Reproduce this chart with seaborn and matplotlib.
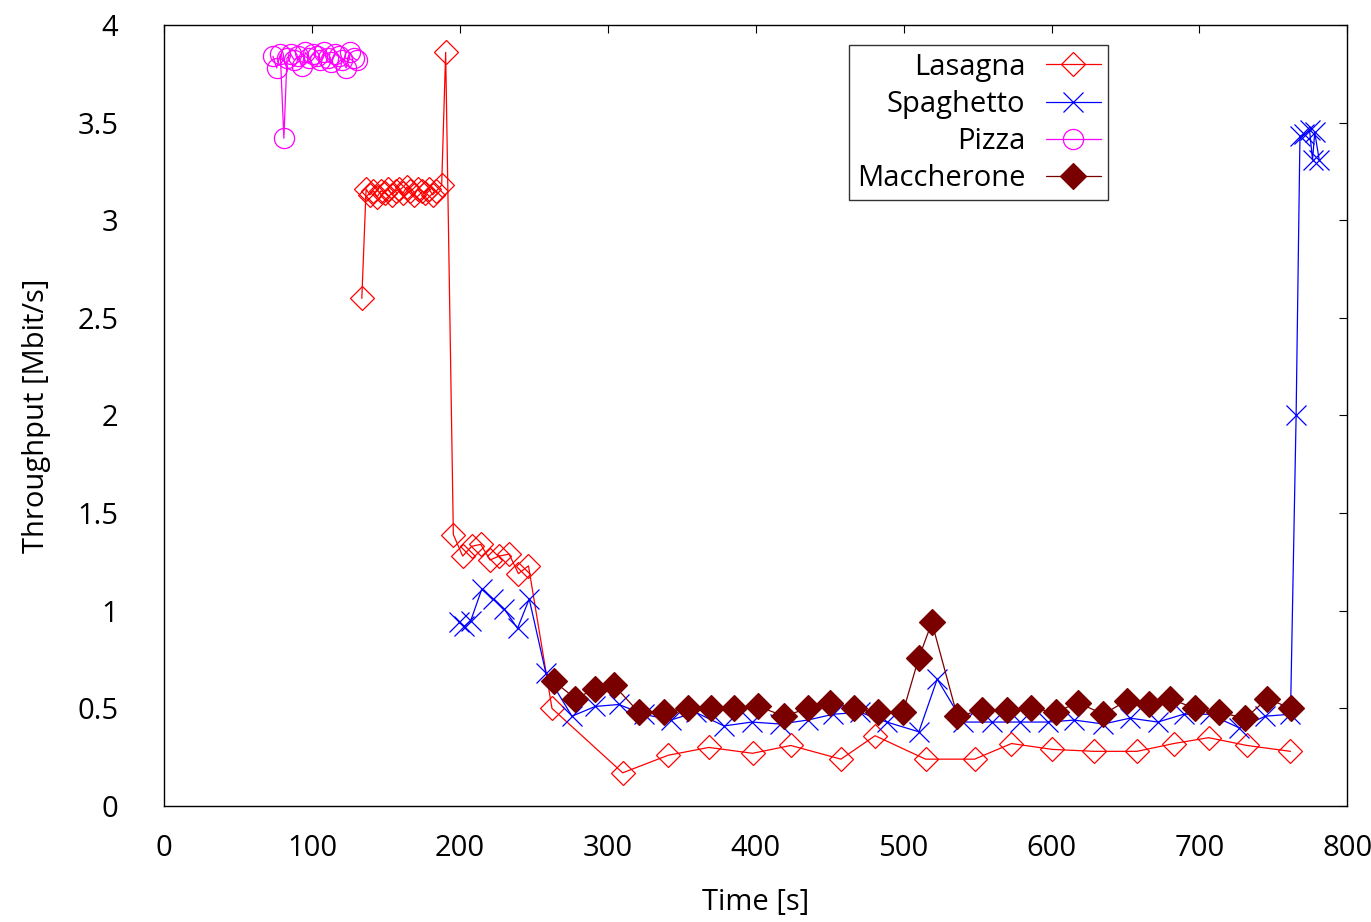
import numpy as np
import pandas as pd
import matplotlib
matplotlib.use("Agg")
import matplotlib.pyplot as plt
import seaborn as sns

# ---------------- data ----------------
pizza_t = [73.5, 76, 78.5, 80.9, 83, 85.5, 88, 90.5, 93, 95.5, 98, 100.5, 103,
           105.5, 108, 110.5, 113, 115.5, 118, 120.5, 123, 125.5, 128, 130.3]
pizza_v = [3.84, 3.78, 3.85, 3.42, 3.83, 3.85, 3.82, 3.84, 3.79, 3.86, 3.83, 3.85,
           3.84, 3.82, 3.86, 3.83, 3.81, 3.85, 3.84, 3.82, 3.78, 3.86, 3.83, 3.82]

lasagna_t = [133.6, 136.5, 139, 141.5, 144, 146.5, 149, 151.5, 154, 156.5, 159,
             161.5, 164, 166.5, 169, 171.5, 174, 176.5, 179, 181.5, 184, 187.6,
             190.3, 195.5, 201.8, 207.9, 214.0, 220.3, 226.4, 233.2, 239.5, 246.3,
             262.2, 310.0, 340.8, 368.3, 397.8, 423.7, 457.6, 480.7, 514.8, 548.0,
             572.9, 600.5, 628.9, 657.8, 682.7, 706.2, 732.2, 761.6]
lasagna_v = [2.60, 3.16, 3.13, 3.15, 3.12, 3.15, 3.14, 3.16, 3.13, 3.15, 3.16,
             3.14, 3.17, 3.15, 3.13, 3.16, 3.15, 3.14, 3.16, 3.13, 3.15, 3.18,
             3.86, 1.39, 1.28, 1.33, 1.34, 1.26, 1.28, 1.29, 1.19, 1.23,
             0.50, 0.17, 0.26, 0.30, 0.27, 0.31, 0.24, 0.36, 0.24, 0.24,
             0.32, 0.29, 0.28, 0.28, 0.32, 0.35, 0.31, 0.28]

spaghetto_t = [199.5, 203.0, 207.3, 214.7, 222.6, 229.8, 238.9, 246.8, 258.1,
               275.7, 291.5, 307.3, 324.3, 342.4, 359.3, 378.5, 397.3, 416.5,
               435.0, 452.4, 470.7, 488.6, 510.3, 522.7, 540.1, 559.8, 578.5,
               597.3, 615.4, 635.1, 653.1, 671.9, 689.3, 706.9, 727.0, 744.6,
               761.6, 765.4, 768.0, 771.0, 774.5, 776.5, 778.0, 781.0]
spaghetto_v = [0.94, 0.92, 0.95, 1.11, 1.06, 1.01, 0.91, 1.06, 0.68,
               0.46, 0.51, 0.52, 0.47, 0.44, 0.48, 0.41, 0.43, 0.42,
               0.44, 0.47, 0.48, 0.43, 0.38, 0.65, 0.43, 0.43, 0.43,
               0.43, 0.44, 0.42, 0.45, 0.43, 0.47, 0.47, 0.40, 0.46,
               0.47, 2.00, 3.43, 3.44, 3.46, 3.31, 3.45, 3.31]

macc_t = [263.3, 278.0, 291.5, 303.9, 320.9, 337.8, 354.1, 369.5, 385.3, 401.8,
          419.2, 435.0, 450.4, 466.6, 482.9, 499.5, 510.3, 519.1, 536.3, 553.0,
          570.2, 586.4, 602.9, 617.6, 635.1, 650.8, 666.0, 680.2, 696.7, 713.4,
          731.0, 746.0, 761.8]
macc_v = [0.64, 0.55, 0.60, 0.62, 0.48, 0.48, 0.50, 0.50, 0.50, 0.51,
          0.46, 0.50, 0.53, 0.50, 0.48, 0.48, 0.76, 0.94, 0.46, 0.49,
          0.49, 0.50, 0.48, 0.53, 0.47, 0.54, 0.52, 0.55, 0.50, 0.48,
          0.45, 0.55, 0.50]

x_ticks = [0, 100, 200, 300, 400, 500, 600, 700, 800]
y_ticks = [0, 0.5, 1, 1.5, 2, 2.5, 3, 3.5, 4]
y_tick_labels = ["0", "0.5", "1", "1.5", "2", "2.5", "3", "3.5", "4"]

# ---------------- plot ----------------
sns.set_style("white")
plt.rcParams['font.family'] = ['Open Sans', 'DejaVu Sans']
plt.rcParams['text.color'] = 'black'
plt.rcParams['axes.labelcolor'] = 'black'
FS = 21

fig = plt.figure(figsize=(13.71, 9.22), dpi=100)
ax = fig.add_axes([0.1198, 0.1258, 0.8629, 0.8471])

series = [
    ("Lasagna", lasagna_t, lasagna_v, "#ff0000", "D", "none", 12.5),
    ("Spaghetto", spaghetto_t, spaghetto_v, "#0000ff", "x", "#0000ff", 15),
    ("Pizza", pizza_t, pizza_v, "#ff00ff", "o", "none", 14.5),
    ("Maccherone", macc_t, macc_v, "#7a0000", "D", "#7a0000", 13),
]

for name, t, v, col, mk, fc, ms in series:
    df = pd.DataFrame({"t": t, "v": v})
    sns.lineplot(data=df, x="t", y="v", ax=ax, sort=False, estimator=None,
                 label=name, linewidth=0.9, color=col, marker=mk,
                 markerfacecolor=fc, markeredgecolor=col,
                 markeredgewidth=0.9, markersize=ms)

ax.set_xlim(0, 800)
ax.set_ylim(0, 4)
ax.set_xticks(x_ticks)
ax.set_yticks(y_ticks)
ax.set_yticklabels(y_tick_labels)
ax.tick_params(axis="both", direction="in", length=6, width=0.8,
               top=True, right=True, labelsize=FS, colors="black")
ax.tick_params(axis="x", pad=20)
ax.tick_params(axis="y", pad=33)
for sp in ax.spines.values():
    sp.set_visible(True)
    sp.set_color("black")
    sp.set_linewidth(1.0)

ax.set_xlabel("Time [s]", fontsize=FS, labelpad=18, color="black")
ax.set_ylabel("Throughput [Mbit/s]", fontsize=FS, labelpad=19, color="black")

leg = ax.legend(loc="upper right", bbox_to_anchor=(0.798, 0.974), borderaxespad=0,
                markerfirst=False, fontsize=FS, frameon=True, fancybox=False,
                labelspacing=0.28, handlelength=1.9, handletextpad=0.7,
                borderpad=0.25)
leg.get_frame().set_edgecolor("black")
leg.get_frame().set_linewidth(1.0)
for txt in leg.get_texts():
    txt.set_color("black")
leg._legend_box.align = "right"
for vp in leg._legend_box.get_children()[1].get_children():
    vp.align = "right"

fig.savefig("out.png", dpi=100)
